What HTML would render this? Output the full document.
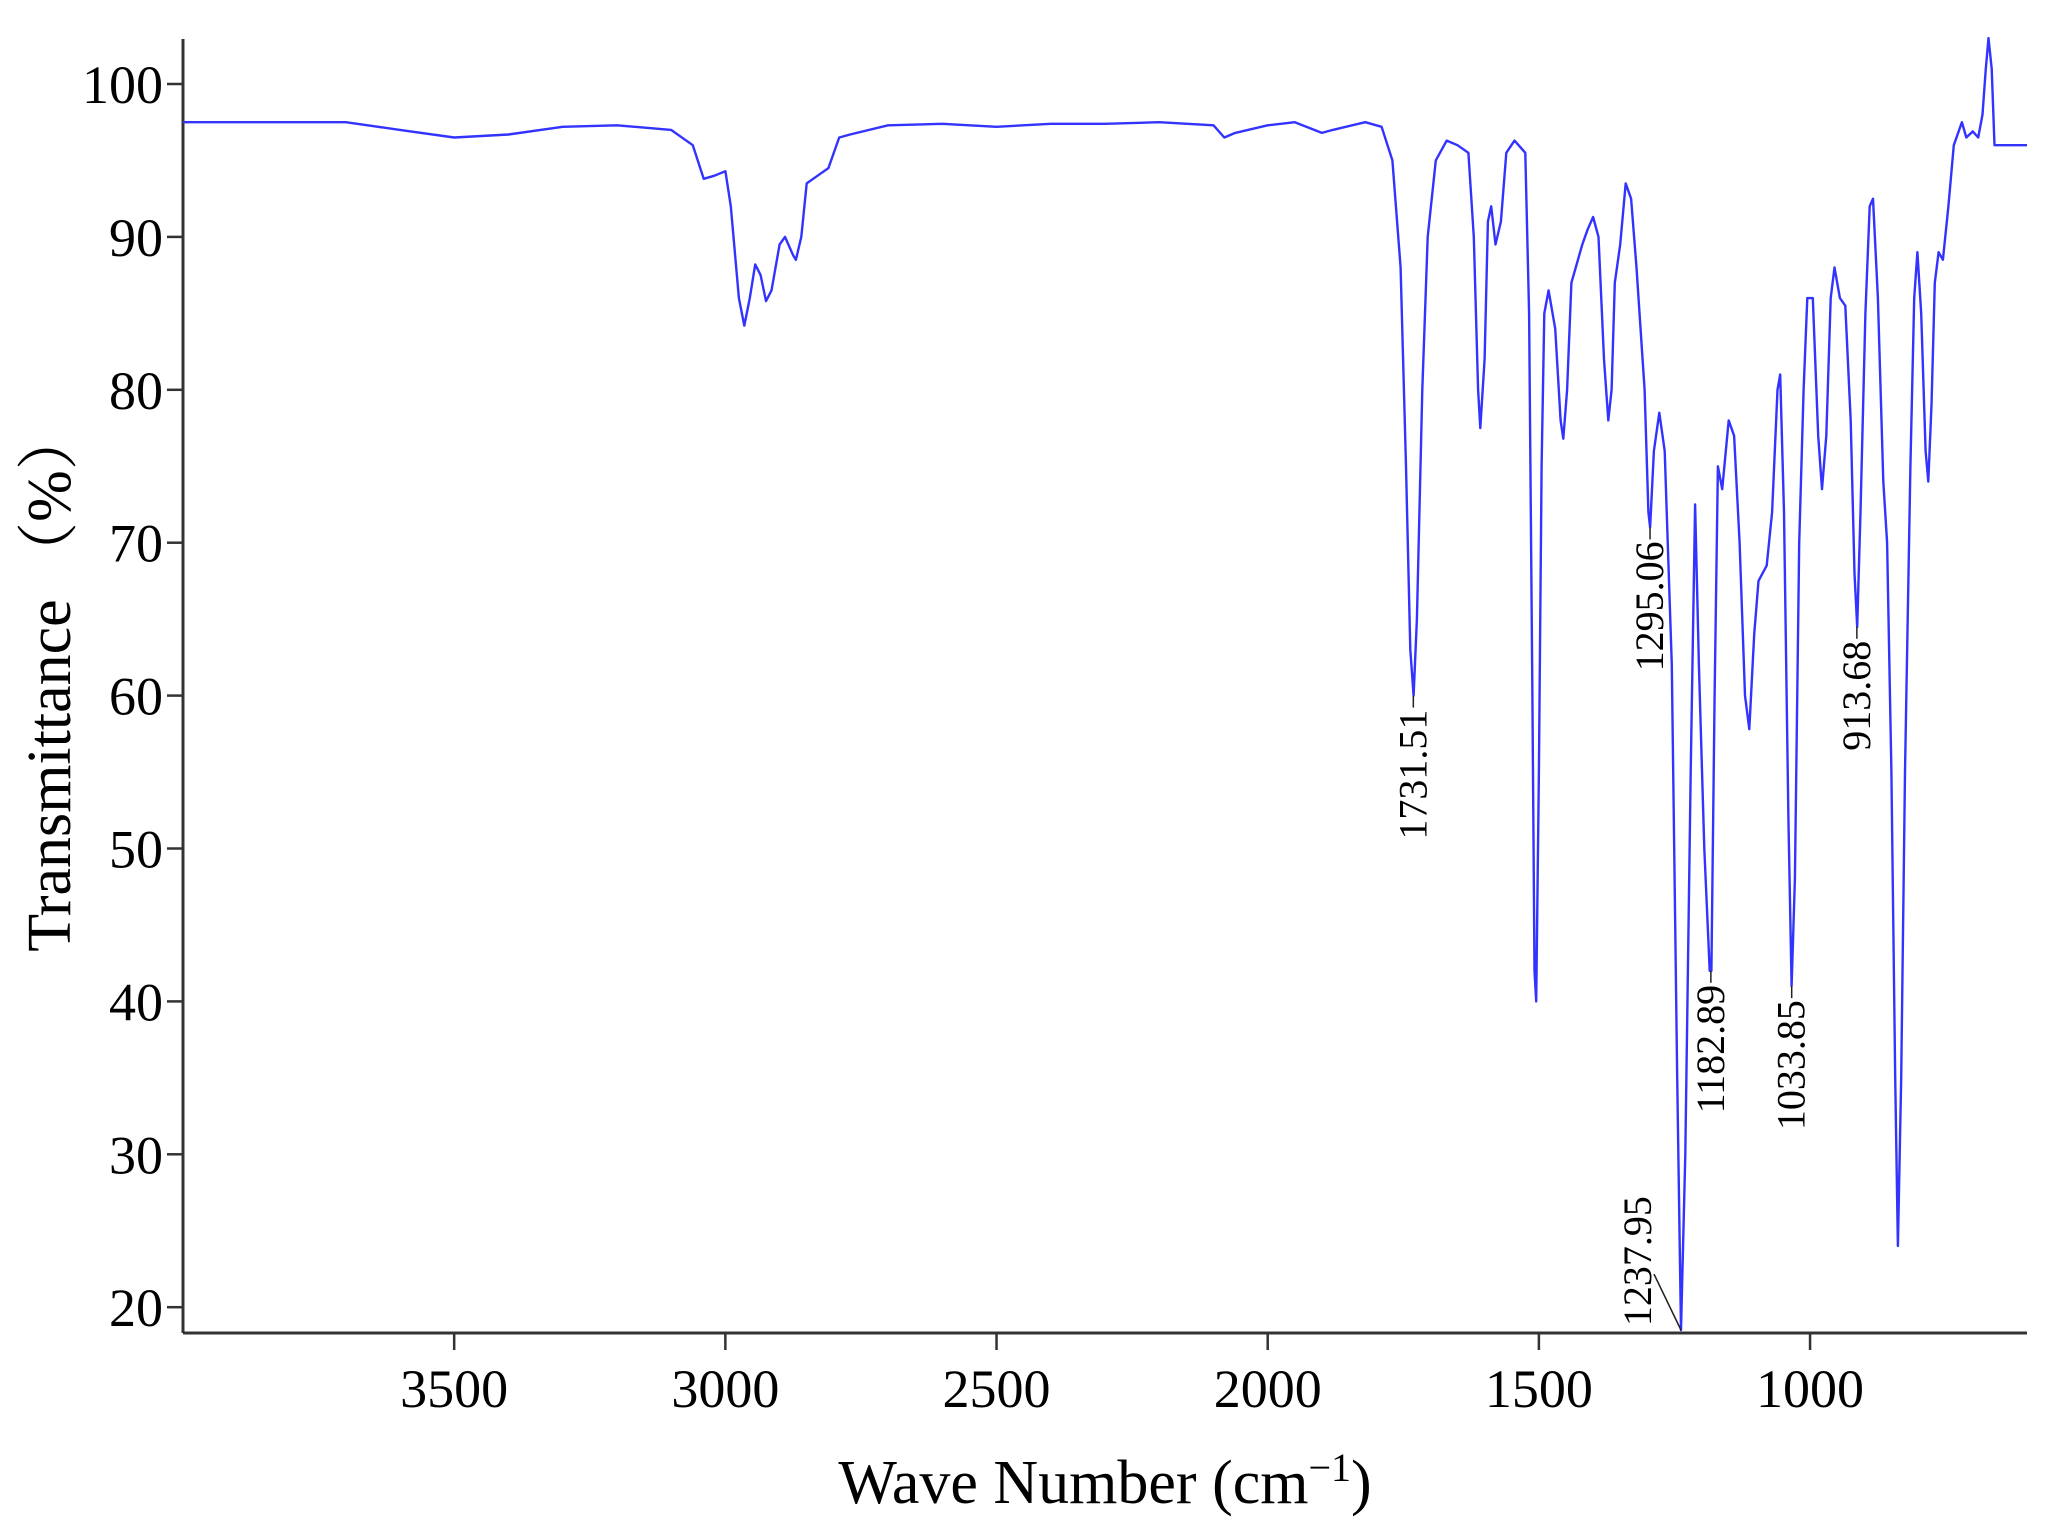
<!DOCTYPE html>
<html><head><meta charset="utf-8"><style>
html,body{margin:0;padding:0;background:#fff;}
svg{display:block;font-family:"Liberation Serif","Noto Serif CJK SC",serif;}
</style></head><body>
<svg id="chart" width="2050" height="1522" viewBox="0 0 2050 1522" xmlns="http://www.w3.org/2000/svg">
<g id="axes"></g>
<path id="spectrum" fill="none" stroke="#3333ff" stroke-width="2.4" stroke-linejoin="round"/>
<g id="labels"></g>
<text x="1105" y="1503" font-size="62" text-anchor="middle">Wave Number (cm<tspan font-size="40" dy="-22">−1</tspan><tspan dy="22">)</tspan></text>
<text transform="translate(70,680) rotate(-90)" font-size="62" text-anchor="middle">Transmittance （%）</text>
</svg>
<script>
const wavenumbers=[4000,3700,3600,3500,3400,3300,3200,3100,3060,3040,3020,3000,2990,2975,2965,2955,2945,2935,2925,2915,2900,2890,2875,2870,2860,2850,2830,2810,2790,2770,2700,2600,2500,2400,2300,2200,2100,2080,2060,2000,1950,1900,1880,1820,1790,1770,1755,1745,1737,1731,1725,1715,1705,1690,1670,1650,1630,1620,1612,1608,1600,1594,1588,1580,1570,1560,1545,1525,1518,1512,1508,1505,1500,1495,1490,1482,1470,1460,1455,1448,1440,1420,1410,1400,1390,1380,1372,1366,1360,1350,1340,1330,1320,1305,1298,1295,1288,1278,1268,1255,1245,1238,1230,1220,1212,1205,1195,1185,1182,1176,1170,1162,1150,1140,1130,1120,1112,1103,1095,1080,1070,1060,1055,1048,1040,1034,1028,1020,1012,1005,995,985,978,970,962,955,945,935,925,918,913,907,898,890,884,875,865,858,850,843,838,832,825,815,808,802,795,787,782,776,770,763,755,745,735,720,712,700,690,682,676,671,665,660,650,600];
const transmittance=[97.5,97.5,97,96.5,96.7,97.2,97.3,97,96,93.8,94,94.3,92,86,84.2,86,88.2,87.5,85.8,86.5,89.5,90,88.8,88.5,90,93.5,94,94.5,96.5,96.7,97.3,97.4,97.2,97.4,97.4,97.5,97.3,96.5,96.8,97.3,97.5,96.8,97,97.5,97.2,95,88,75,63,60,65,80,90,95,96.3,96,95.5,90,80,77.5,82,91,92,89.5,91,95.5,96.3,95.5,85,60,42,40,55,75,85,86.5,84,78,76.8,80,87,89.5,90.5,91.3,90,82,78,80,87,89.5,93.5,92.5,88,80,72,71,76,78.5,76,62,35,18.5,30,55,72.5,62,50,42,42,60,75,73.5,78,77,70,60,57.8,64,67.5,68.5,72,80,81,72,52,41,48,70,80,86,86,77,73.5,77,86,88,86,85.5,78,68,64.5,72,85,92,92.5,86,74,70,55,35,24,35,55,75,86,89,85,76,74,79,87,89,88.5,92,96,97.5,96.5,96.9,96.5,98,101,103,101,96,96,96];
const yTicks=[20,30,40,50,60,70,80,90,100];
const xTicks=[3500,3000,2500,2000,1500,1000];
const peakLabels=["1731.51","1295.06","1237.95","1182.89","1033.85","913.68"];
const peakWn=[1731.51,1295.06,1237.95,1182.89,1033.85,913.68];
const peakT=[60,71,18.5,42,41,64.5];

const L=183,R=2027,T=39,B=1333;
const X=w=>L+(4000-w)*(R-L)/3400;
const Y=v=>84+(100-v)*15.29;
const NS="http://www.w3.org/2000/svg";
function mk(tag,attrs,parent){const e=document.createElementNS(NS,tag);for(const k in attrs)e.setAttribute(k,attrs[k]);parent.appendChild(e);return e;}
const ax=document.getElementById('axes');
const yl=mk('line',{x1:L,y1:T,x2:L,y2:B,stroke:'#333','stroke-width':3},ax);


const xl=mk('line',{x1:L,y1:B,x2:R,y2:B,stroke:'#333','stroke-width':3},ax);


yTicks.forEach(v=>{
  const t=mk('line',{x1:L-16,y1:Y(v),x2:L,y2:Y(v),stroke:'#333','stroke-width':2.5},ax);
  
  
  const tx=mk('text',{x:L-20,y:Y(v)+19,'font-size':54,'text-anchor':'end'},ax);
  
  
  tx.textContent=v;
});
xTicks.forEach(w=>{
  const t=mk('line',{x1:X(w),y1:B,x2:X(w),y2:B+17,stroke:'#333','stroke-width':2.5},ax);
  
  
  const tx=mk('text',{x:X(w),y:1407,'font-size':54,'text-anchor':'middle'},ax);
  
  
  tx.textContent=w;
});
let d='';
wavenumbers.forEach((w,i)=>{d+=(i?'L':'M')+X(w).toFixed(1)+' '+Y(transmittance[i]).toFixed(1);});
document.getElementById('spectrum').setAttribute('d',d);
const lg=document.getElementById('labels');
peakLabels.forEach((s,i)=>{
  const x=X(peakWn[i]), y=Y(peakT[i]);
  const g=mk('g',{},lg);
  
  
  if(s==="1237.95"){
    mk('line',{x1:x-27,y1:y-56,x2:x,y2:y,stroke:'#222','stroke-width':1.5},g);
    const t=mk('text',{transform:`translate(${x-30},${y-4}) rotate(-90)`,'font-size':40,'text-anchor':'start'},g);
    t.textContent=s;
  } else {
    mk('line',{x1:x,y1:y,x2:x,y2:y+12,stroke:'#222','stroke-width':1.5},g);
    const t=mk('text',{transform:`translate(${x+13},${y+14}) rotate(-90)`,'font-size':40,'text-anchor':'end'},g);
    t.textContent=s;
  }
});
</script>
</body></html>
